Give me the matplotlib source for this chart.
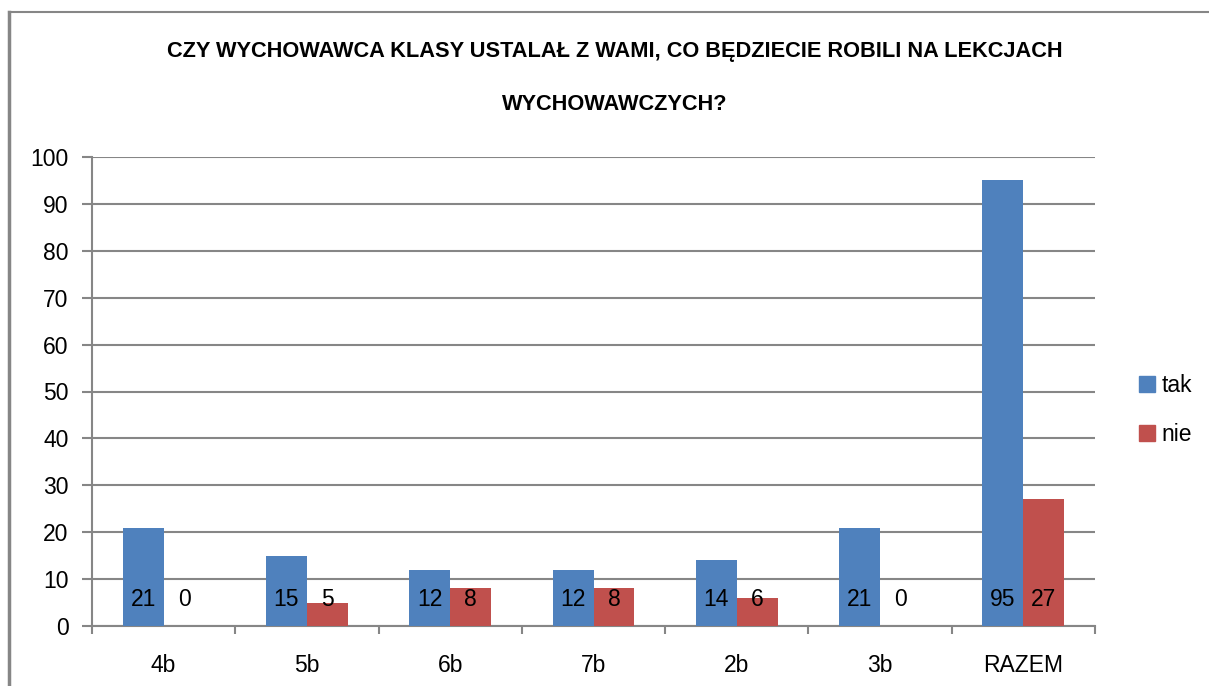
import matplotlib
matplotlib.use("Agg")
import matplotlib.pyplot as plt
from matplotlib.lines import Line2D
from matplotlib.patches import Patch
import numpy as np

categories = ["4b", "5b", "6b", "7b", "2b", "3b", "RAZEM"]
tak = [21, 15, 12, 12, 14, 21, 95]
nie = [0, 5, 8, 8, 6, 0, 27]
series_names = ["tak", "nie"]
title_lines = ["CZY WYCHOWAWCA KLASY USTALAŁ Z WAMI, CO BĘDZIECIE ROBILI NA LEKCJACH",
               "WYCHOWAWCZYCH?"]
yticks = list(range(0, 101, 10))

BLUE = "#4F81BD"
RED = "#C0504D"
GRID = "#868686"

plt.rcParams['font.family'] = ['Liberation Sans', 'DejaVu Sans']

W, H = 1209, 686
fig = plt.figure(figsize=(W / 100, H / 100), dpi=100)

ax = fig.add_axes([92 / W, 1 - 626 / H, (1095 - 92) / W, (626 - 157) / H])

x = np.arange(len(categories))
bw = 0.286
ax.bar(x - bw / 2, tak, width=bw, color=BLUE, zorder=3)
ax.bar(x + bw / 2, nie, width=bw, color=RED, zorder=3)

for xi, v in zip(x - bw / 2, tak):
    ax.annotate(str(v), xy=(xi, 0), xytext=(0, 19), textcoords="offset points",
                ha="center", va="center", fontsize=16.5, color="black", zorder=4)
for xi, v in zip(x + bw / 2, nie):
    ax.annotate(str(v), xy=(xi, 0), xytext=(0, 19), textcoords="offset points",
                ha="center", va="center", fontsize=16.5, color="black", zorder=4)

ax.set_xlim(-0.5, len(categories) - 0.5)
ax.set_ylim(0, 100)
ax.set_yticks(yticks)
ax.set_yticklabels([str(t) for t in yticks], fontsize=16.5)
ax.yaxis.grid(True, color=GRID, linewidth=1.5, zorder=0)
ax.tick_params(axis="y", length=7, width=1.5, color=GRID, pad=10)

ax.set_xticks(x)
ax.set_xticklabels(categories, fontsize=16.5)
ax.set_xticks(np.arange(-0.5, len(categories), 1.0), minor=True)
ax.tick_params(axis="x", which="major", length=0, pad=20)
ax.tick_params(axis="x", which="minor", length=6, width=1.5, color=GRID)

for s in ["top", "right"]:
    ax.spines[s].set_visible(False)
for s in ["left", "bottom"]:
    ax.spines[s].set_color(GRID)
    ax.spines[s].set_linewidth(1.5)

handles = [Patch(color=BLUE), Patch(color=RED)]
leg = fig.legend(handles, series_names, loc="center left",
                 bbox_to_anchor=(1118 / W, 1 - 410 / H), frameon=False,
                 fontsize=16.5, handlelength=0.7, handleheight=0.7,
                 handletextpad=0.3, labelspacing=1.1)

fig.text(615 / W, 1 - 51 / H, title_lines[0], ha="center", va="center",
         fontsize=15.7, fontweight="bold")
fig.text(615 / W, 1 - 104 / H, title_lines[1], ha="center", va="center",
         fontsize=15.7, fontweight="bold")

fig.add_artist(Line2D([9 / W, 9 / W], [0, 1 - 12 / H], color=GRID, linewidth=2.5,
                      transform=fig.transFigure))
fig.add_artist(Line2D([9 / W, 1], [1 - 12 / H, 1 - 12 / H], color=GRID, linewidth=1.5,
                      transform=fig.transFigure))

fig.savefig("out.png", dpi=100)
